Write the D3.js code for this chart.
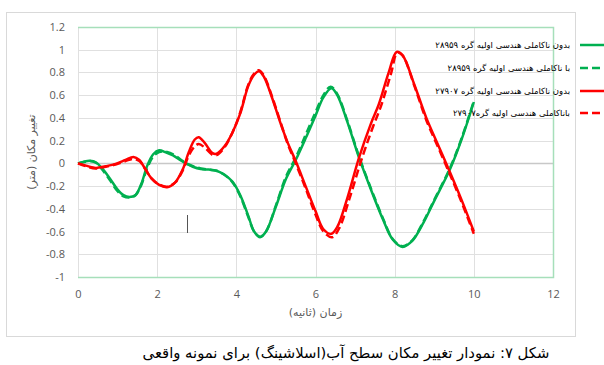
<!DOCTYPE html>
<html>
<head>
<meta charset="utf-8">
<script src="https://cdn.jsdelivr.net/npm/d3@7"></script>
<style>
  html, body { margin: 0; padding: 0; background: #fff; }
  svg { display: block; }
</style>
</head>
<body>
<svg id="chart" width="604" height="365"></svg>
<script>
// Time (s) / displacement (m) pairs for each series
const greenSolid = [
  [0,0],[0.15,0.015],[0.3,0.022],[0.45,0.01],[0.6,-0.04],[0.8,-0.13],[1.0,-0.23],[1.15,-0.28],
  [1.3,-0.295],[1.45,-0.28],[1.6,-0.18],[1.75,-0.02],[1.9,0.08],[2.05,0.115],[2.2,0.1],[2.4,0.07],
  [2.6,0.025],[2.75,-0.005],[2.9,-0.03],[3.1,-0.05],[3.3,-0.055],[3.5,-0.065],[3.7,-0.1],[3.9,-0.16],
  [4.1,-0.28],[4.3,-0.46],[4.45,-0.6],[4.6,-0.65],[4.75,-0.6],[5.0,-0.38],[5.25,-0.14],[5.5,0.03],
  [5.75,0.22],[6.0,0.42],[6.2,0.58],[6.4,0.66],[6.55,0.6],[6.8,0.37],[7.1,0.05],[7.4,-0.23],
  [7.7,-0.49],[7.95,-0.67],[8.2,-0.735],[8.45,-0.68],[8.7,-0.54],[9.0,-0.33],[9.4,-0.05],[9.7,0.22],[10.0,0.54]
];
const greenDashed = [
  [0,0],[0.15,0.012],[0.3,0.02],[0.45,0.005],[0.6,-0.05],[0.8,-0.145],[1.0,-0.245],[1.15,-0.29],
  [1.3,-0.3],[1.45,-0.28],[1.6,-0.19],[1.75,-0.04],[1.9,0.06],[2.05,0.1],[2.25,0.1],[2.45,0.07],
  [2.65,0.02],[2.8,-0.01],[2.95,-0.03],[3.1,-0.045],[3.3,-0.055],[3.5,-0.065],[3.7,-0.1],[3.9,-0.165],
  [4.1,-0.29],[4.3,-0.47],[4.45,-0.6],[4.6,-0.645],[4.75,-0.6],[5.0,-0.37],[5.25,-0.12],[5.5,0.05],
  [5.75,0.25],[6.0,0.45],[6.2,0.6],[6.38,0.675],[6.55,0.61],[6.8,0.38],[7.1,0.06],[7.4,-0.22],
  [7.7,-0.48],[7.95,-0.665],[8.2,-0.73],[8.45,-0.675],[8.7,-0.53],[9.0,-0.32],[9.4,-0.04],[9.7,0.23],[10.0,0.55]
];
const redSolid = [
  [0,0],[0.2,-0.02],[0.45,-0.04],[0.7,-0.025],[0.95,-0.005],[1.2,0.03],[1.4,0.057],[1.55,0.03],
  [1.7,-0.05],[1.85,-0.13],[2.05,-0.19],[2.25,-0.21],[2.45,-0.17],[2.65,-0.05],[2.8,0.1],[2.95,0.21],
  [3.05,0.23],[3.2,0.18],[3.4,0.09],[3.5,0.085],[3.7,0.15],[3.9,0.27],[4.1,0.44],[4.3,0.68],
  [4.45,0.78],[4.57,0.81],[4.7,0.76],[4.9,0.58],[5.1,0.37],[5.3,0.18],[5.5,0.02],[5.75,-0.2],
  [6.0,-0.42],[6.2,-0.58],[6.4,-0.62],[6.55,-0.56],[6.8,-0.31],[7.1,0.05],[7.4,0.35],[7.6,0.52],
  [7.85,0.8],[8.05,0.98],[8.2,0.95],[8.5,0.69],[8.8,0.4],[9.1,0.16],[9.4,-0.08],[9.7,-0.33],[10.0,-0.6]
];
const redDashed = [
  [0,0],[0.2,-0.025],[0.45,-0.045],[0.7,-0.03],[0.95,-0.01],[1.2,0.02],[1.4,0.04],[1.55,0.02],
  [1.7,-0.05],[1.85,-0.13],[2.05,-0.185],[2.25,-0.205],[2.45,-0.17],[2.65,-0.06],[2.8,0.07],[2.95,0.15],
  [3.05,0.17],[3.2,0.14],[3.4,0.075],[3.5,0.072],[3.7,0.14],[3.9,0.27],[4.1,0.45],[4.3,0.69],
  [4.45,0.79],[4.57,0.82],[4.7,0.77],[4.9,0.59],[5.1,0.38],[5.3,0.17],[5.5,0.0],[5.75,-0.22],
  [6.0,-0.45],[6.2,-0.6],[6.42,-0.65],[6.6,-0.57],[6.85,-0.32],[7.15,0.02],[7.45,0.32],[7.65,0.5],
  [7.9,0.78],[8.07,0.975],[8.2,0.95],[8.5,0.68],[8.8,0.38],[9.1,0.14],[9.4,-0.1],[9.7,-0.35],[10.0,-0.62]
];

const seriesNames = [
  "بدون ناکاملی هندسی اولیه گره ۲۸۹۵۹",
  "با ناکاملی هندسی اولیه گره ۲۸۹۵۹",
  "بدون ناکاملی هندسی اولیه گره ۲۷۹۰۷",
  "باناکاملی هندسی اولیه گره۲۷۹۰۷"
];
const xTicks = [0, 2, 4, 6, 8, 10, 12];
const yTicks = [-1, -0.8, -0.6, -0.4, -0.2, 0, 0.2, 0.4, 0.6, 0.8, 1, 1.2];
const xTitle = "زمان (ثانیه)";
const yTitle = "تغییر مکان (متر)";
const caption = "شکل ۷: نمودار تغییر مکان سطح آب(اسلاشینگ) برای نمونه واقعی";

const series = [
  { name: seriesNames[0], data: greenSolid,  color: "#00B050", dash: null },
  { name: seriesNames[1], data: greenDashed, color: "#00B050", dash: "8,4" },
  { name: seriesNames[2], data: redSolid,    color: "#FF0000", dash: null },
  { name: seriesNames[3], data: redDashed,   color: "#FF0000", dash: "8,4" }
];

const svg = d3.select("#chart");
const arabicFont = "'DejaVu Sans', sans-serif";
const tickFont = "'Open Sans', 'Liberation Sans', sans-serif";

// chart frame
svg.append("rect")
  .attr("x", 6.5).attr("y", 12.5).attr("width", 569).attr("height", 324)
  .attr("fill", "#fff").attr("stroke", "#d9d9d9").attr("stroke-width", 1);

const x = d3.scaleLinear().domain([0, 12]).range([78, 553]);
const y = d3.scaleLinear().domain([-1, 1.2]).range([277, 27]);

// gridlines
const grid = svg.append("g");
grid.selectAll("line.h").data(yTicks).join("line")
  .attr("x1", x(0)).attr("x2", x(12))
  .attr("y1", d => Math.round(y(d)) + 0.5).attr("y2", d => Math.round(y(d)) + 0.5)
  .attr("stroke", d => d === 0 ? "#c8c8c8" : "#e0e0e0").attr("stroke-width", d => d === 0 ? 1.5 : 1);
grid.selectAll("line.v").data(xTicks).join("line")
  .attr("y1", y(1.2)).attr("y2", y(-1))
  .attr("x1", d => Math.round(x(d)) + 0.5).attr("x2", d => Math.round(x(d)) + 0.5)
  .attr("stroke", "#e0e0e0").attr("stroke-width", 1);

// plot-area outline (top, right, bottom)
const edge = "#a6dfba";
svg.append("path")
  .attr("d", `M${x(0)},${Math.round(y(1.2)) + 0.5}H${Math.round(x(12)) + 0.5}V${Math.round(y(-1)) + 0.5}H${x(0)}`)
  .attr("fill", "none").attr("stroke", edge).attr("stroke-width", 1.5);

// axes
const xAxis = d3.axisBottom(x).tickValues(xTicks).tickSize(0).tickFormat(d3.format("d"));
const gx = svg.append("g").attr("transform", `translate(0,${y(-1) + 10})`).call(xAxis);
gx.select(".domain").remove();
gx.selectAll("text").attr("font-family", tickFont).attr("font-size", 11).attr("fill", "#595959");

const yAxis = d3.axisLeft(y).tickValues(yTicks).tickSize(0).tickFormat(d => String(+d.toFixed(1)));
const gy = svg.append("g").attr("transform", `translate(${x(0) - 10},0)`).call(yAxis);
gy.select(".domain").remove();
gy.selectAll("text").attr("font-family", tickFont).attr("font-size", 11).attr("fill", "#595959");

// series lines
const line = d3.line().x(d => x(d[0])).y(d => y(d[1])).curve(d3.curveCatmullRom.alpha(0.5));
svg.append("g").selectAll("path").data(series).join("path")
  .attr("d", d => line(d.data))
  .attr("fill", "none")
  .attr("stroke", d => d.color)
  .attr("stroke-width", 2.5)
  .attr("stroke-linejoin", "round")
  .attr("stroke-dasharray", d => d.dash);

// small vertical mark inside the plot
svg.append("line")
  .attr("x1", 187.5).attr("x2", 187.5).attr("y1", 215).attr("y2", 233)
  .attr("stroke", "#555").attr("stroke-width", 1);

// axis titles
svg.append("text")
  .attr("x", (x(0) + x(12)) / 2).attr("y", 316)
  .attr("text-anchor", "middle").attr("direction", "rtl")
  .attr("font-family", arabicFont).attr("font-size", 11).attr("fill", "#595959")
  .text(xTitle);
svg.append("text")
  .attr("transform", `translate(35,${(y(1.2) + y(-1)) / 2}) rotate(-90)`)
  .attr("text-anchor", "middle").attr("direction", "rtl")
  .attr("font-family", arabicFont).attr("font-size", 11).attr("fill", "#595959")
  .text(yTitle);

// legend
const legend = svg.append("g");
const legY = [45, 68, 91, 113];
series.forEach((s, i) => {
  legend.append("text")
    .attr("x", 570).attr("y", legY[i]).attr("dy", "0.35em")
    .attr("direction", "rtl").attr("text-anchor", "start")
    .attr("font-family", arabicFont).attr("font-size", 8.5).attr("fill", "#000")
    .text(s.name);
  legend.append("line")
    .attr("x1", 580).attr("x2", 610).attr("y1", legY[i]).attr("y2", legY[i])
    .attr("stroke", s.color).attr("stroke-width", 2.5)
    .attr("stroke-dasharray", s.dash);
});

// caption
const cap = svg.append("text")
  .attr("x", 346).attr("y", 358)
  .attr("text-anchor", "middle").attr("direction", "rtl")
  .attr("font-family", arabicFont).attr("font-size", 15).attr("fill", "#000")
  .text(caption);
const capW = cap.node().getComputedTextLength();
cap.attr("font-size", 15 * 407 / capW);
</script>
</body>
</html>
